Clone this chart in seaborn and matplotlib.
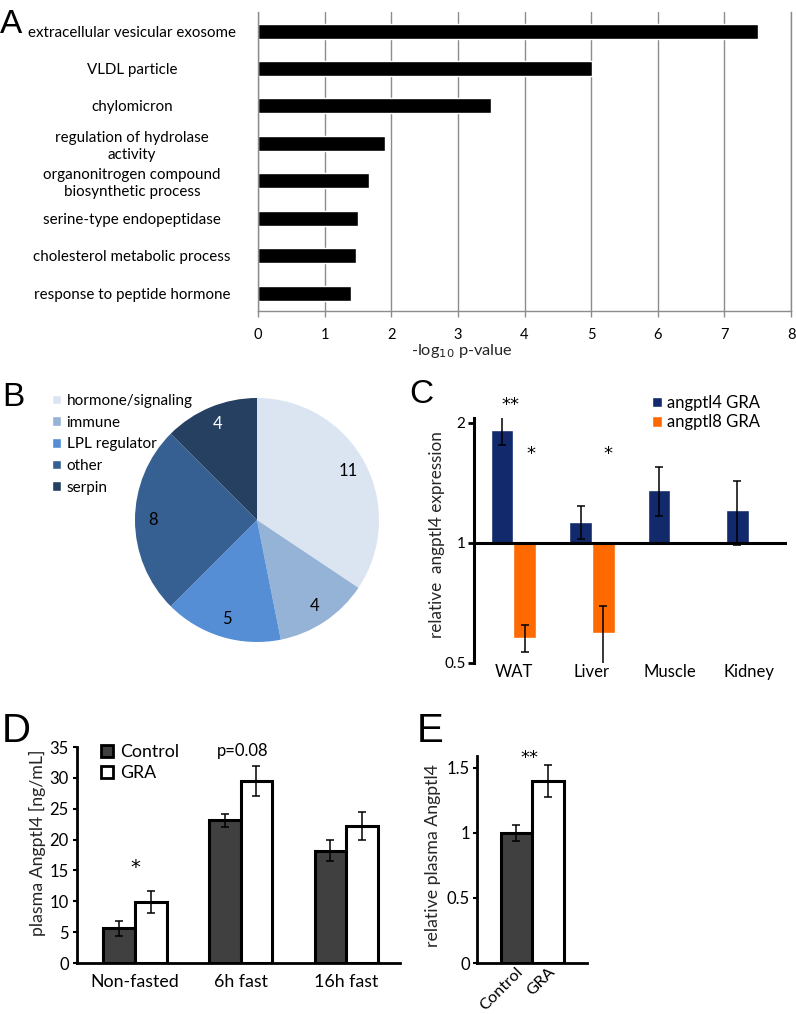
import numpy as np
import pandas as pd
import matplotlib
matplotlib.use("Agg")
import matplotlib.pyplot as plt
import seaborn as sns
from matplotlib.patches import Patch

# ---------------- data ----------------
# Panel A
go_terms = ["extracellular vesicular exosome", "VLDL particle", "chylomicron",
            "regulation of hydrolase\nactivity",
            "organonitrogen compound\nbiosynthetic process",
            "serine-type endopeptidase", "cholesterol metabolic process",
            "response to peptide hormone"]
go_neglog_p = [7.5, 5.02, 3.5, 1.9, 1.67, 1.5, 1.47, 1.4]
a_xticks = [0, 1, 2, 3, 4, 5, 6, 7, 8]

# Panel B
pie_labels = ["hormone/signaling", "immune", "LPL regulator", "other", "serpin"]
pie_counts = [11, 4, 5, 8, 4]
pie_colors = ["#dbe5f1", "#95b3d7", "#558ed5", "#376092", "#254061"]
pie_text_colors = ["black", "black", "black", "black", "white"]

# Panel C
c_tissues = ["WAT", "Liver", "Muscle", "Kidney"]
c_genes = ["angptl4 GRA", "angptl8 GRA"]
c_angptl4 = [1.92, 1.13, 1.36, 1.21]
c_angptl4_err = [0.165, 0.11, 0.19, 0.22]
c_angptl8 = [0.578, 0.595, np.nan, np.nan]
c_angptl8_err = [0.045, 0.10, np.nan, np.nan]
c_colors = ["#12296b", "#ff6a00"]
c_yticks = [0.5, 1, 2]

# Panel D
d_conditions = ["Non-fasted", "6h fast", "16h fast"]
d_groups = ["Control", "GRA"]
d_control = [5.6, 23.1, 18.2]
d_control_err = [1.2, 1.0, 1.7]
d_gra = [9.9, 29.5, 22.2]
d_gra_err = [1.8, 2.4, 2.3]
d_yticks = [0, 5, 10, 15, 20, 25, 30, 35]

# Panel E
e_groups = ["Control", "GRA"]
e_values = [1.0, 1.40]
e_err = [0.065, 0.125]
e_yticks = [0, 0.5, 1, 1.5]

grp_colors = {"Control": "#404040", "GRA": "white"}

# ---------------- figure ----------------
sns.set_theme(style="white")
plt.rcParams['font.family'] = ['Lato', 'DejaVu Sans']
plt.rcParams['axes.edgecolor'] = 'black'
plt.rcParams['text.color'] = 'black'
plt.rcParams['xtick.color'] = 'black'
plt.rcParams['ytick.color'] = 'black'

W, H = 796, 1014
fig = plt.figure(figsize=(W / 100, H / 100), dpi=100)


def ax_px(l, t, r, b):
    return fig.add_axes([l / W, 1 - b / H, (r - l) / W, (b - t) / H])


letter_kw = dict(family=['Liberation Sans', 'DejaVu Sans'], color='black')
star_kw = dict(family=['DejaVu Sans'], color='black')

# ---------------- Panel A ----------------
axA = ax_px(258, 12, 791, 311)
sns.barplot(x=go_neglog_p, y=go_terms, orient='h', color='black', width=0.4,
            saturation=1, ax=axA)
axA.set_xlim(0, 8)
axA.set_ylim(7.48, -0.51)
axA.set_xticks(a_xticks)
axA.xaxis.grid(True, color='#8c8c8c', lw=1)
axA.set_axisbelow(True)
for s in ['left', 'bottom', 'right']:
    axA.spines[s].set_color('#8c8c8c')
    axA.spines[s].set_linewidth(1)
axA.spines['top'].set_visible(False)
axA.tick_params(axis='x', direction='out', length=4, color='#8c8c8c',
                width=1, pad=8, labelsize=10.5, bottom=True)
axA.tick_params(axis='y', length=0, pad=90.7, labelsize=10.9)
for lab in axA.get_yticklabels():
    lab.set_horizontalalignment('center')
    lab.set_linespacing(1.25)
axA.set_ylabel("")
axA.set_xlabel(r"-log$_{10}$ p-value", fontsize=11.8)
axA.xaxis.set_label_coords((462 - 258) / 533, 1 - (342 - 12) / 299)
fig.text(0 / W, 1 - 33 / H, "A", fontsize=24, ha='left', va='baseline', **letter_kw)

# ---------------- Panel B ----------------
axB = ax_px(135, 398, 379, 642)
total = sum(pie_counts)
wedges, texts, autotexts = axB.pie(
    pie_counts, colors=pie_colors, startangle=90, counterclock=False,
    autopct=lambda p: f"{int(round(p * total / 100))}", pctdistance=0.85,
    wedgeprops=dict(linewidth=0), textprops=dict(fontsize=12))
for t, c in zip(autotexts, pie_text_colors):
    t.set_color(c)
axB.set_xlim(-1, 1)
axB.set_ylim(-1, 1)
fig.legend(handles=[Patch(facecolor=c, label=l) for c, l in zip(pie_colors, pie_labels)],
           loc='upper left', bbox_to_anchor=(52 / W, 1 - 394 / H), frameon=False,
           fontsize=11, handlelength=0.6, handleheight=0.6, handletextpad=0.35,
           labelspacing=0.5, borderpad=0, borderaxespad=0)
fig.text(2 / W, 1 - 406 / H, "B", fontsize=24, ha='left', va='baseline', **letter_kw)

# ---------------- Panel C ----------------
axC = ax_px(474, 418, 787, 663)
dfC = pd.DataFrame({
    "tissue": c_tissues * 2,
    "gene": [c_genes[0]] * 4 + [c_genes[1]] * 4,
    "value": c_angptl4 + c_angptl8,
    "err": c_angptl4_err + c_angptl8_err,
}).dropna()
dfC["log2"] = np.log2(dfC["value"])
sns.barplot(data=dfC, x="tissue", y="log2", hue="gene", order=c_tissues,
            hue_order=c_genes, palette=dict(zip(c_genes, c_colors)),
            width=0.58, saturation=1, errorbar=None, legend=False, ax=axC)
for p in axC.patches:
    h = p.get_height()
    cx = p.get_x() + p.get_width() / 2
    row = dfC[np.isclose(dfC["log2"], h)].iloc[0]
    v, e = row["value"], row["err"]
    lo = np.log2(v) - np.log2(v - e)
    hi = np.log2(v + e) - np.log2(v)
    axC.errorbar(cx, h, yerr=[[lo], [hi]], fmt='none', ecolor='black',
                 elinewidth=1.1, capsize=3, capthick=1.1)
axC.set_xlim(-0.504, 3.49)
axC.set_ylim(-1.0, 1.04)
axC.set_yticks(np.log2(c_yticks))
axC.set_yticklabels([f"{v:g}" for v in c_yticks])
axC.axhline(0, color='black', lw=2.2)
for s in ['top', 'right', 'bottom']:
    axC.spines[s].set_visible(False)
axC.spines['left'].set_linewidth(2.2)
axC.tick_params(axis='y', direction='out', length=4, width=2, pad=2, labelsize=11, left=True)
axC.tick_params(axis='x', length=0, pad=1, labelsize=12)
axC.set_xlabel("")
axC.set_ylabel("relative  angptl4 expression", fontsize=12.3)
axC.yaxis.label.set_va('center')
axC.yaxis.set_label_coords((437 - 474) / 313, 1 - (535 - 418) / 245)
axC.text(-0.045, 1.15, "**", ha='center', va='center', fontsize=13, clip_on=False, **star_kw)
axC.text(0.22, 0.74, "*", ha='center', va='center', fontsize=13, clip_on=False, **star_kw)
axC.text(1.21, 0.74, "*", ha='center', va='center', fontsize=13, clip_on=False, **star_kw)
fig.legend(handles=[Patch(facecolor=c, label=l) for c, l in zip(c_colors, c_genes)],
           loc='upper left', bbox_to_anchor=(652 / W, 1 - 395 / H), frameon=False,
           fontsize=12, handlelength=0.6, handleheight=0.6, handletextpad=0.3,
           labelspacing=0.2, borderpad=0, borderaxespad=0)
fig.text(409 / W, 1 - 403 / H, "C", fontsize=24, ha='left', va='baseline', **letter_kw)

# ---------------- Panel D ----------------
axD = ax_px(77, 747, 400, 963)
dfD = pd.DataFrame({
    "condition": d_conditions * 2,
    "group": [d_groups[0]] * 3 + [d_groups[1]] * 3,
    "value": d_control + d_gra,
    "err": d_control_err + d_gra_err,
})
sns.barplot(data=dfD, x="condition", y="value", hue="group", order=d_conditions,
            hue_order=d_groups, palette=grp_colors, edgecolor='black', linewidth=2.2,
            width=0.6, saturation=1, errorbar=None, legend=False, ax=axD)
for p in axD.patches:
    h = p.get_height()
    cx = p.get_x() + p.get_width() / 2
    row = dfD[np.isclose(dfD["value"], h)].iloc[0]
    axD.errorbar(cx, h, yerr=row["err"], fmt='none', ecolor='black',
                 elinewidth=1.1, capsize=3, capthick=1.1)
axD.set_xlim(-0.55, 2.51)
axD.set_ylim(0, 35)
axD.set_yticks(d_yticks)
for s in ['top', 'right']:
    axD.spines[s].set_visible(False)
for s in ['left', 'bottom']:
    axD.spines[s].set_linewidth(2)
axD.tick_params(axis='y', direction='out', length=3, width=1.5, pad=3, labelsize=12, left=True)
axD.tick_params(axis='x', length=0, pad=8, labelsize=12.8)
axD.set_xlabel("")
axD.set_ylabel("plasma Angptl4 [ng/mL]", fontsize=12.8)
axD.yaxis.label.set_va('center')
axD.yaxis.set_label_coords((37 - 77) / 323, 1 - (843 - 747) / 216)
axD.text(0, 15.4, "*", ha='center', va='center', fontsize=14, **star_kw)
axD.text(1.02, 34.3, "p=0.08", ha='center', va='center', fontsize=12, clip_on=False)
fig.legend(handles=[Patch(facecolor=grp_colors[g], edgecolor='black', linewidth=2, label=g)
                    for g in d_groups],
           loc='upper left', bbox_to_anchor=(101 / W, 1 - 744 / H), frameon=False,
           fontsize=12.8, handlelength=0.65, handleheight=0.65, handletextpad=0.4,
           labelspacing=0.3, borderpad=0, borderaxespad=0)
fig.text(2 / W, 1 - 742 / H, "D", fontsize=29, ha='left', va='baseline', **letter_kw)

# ---------------- Panel E ----------------
axE = ax_px(477, 756, 587, 963)
sns.barplot(x=e_groups, y=e_values, hue=e_groups, palette=grp_colors, edgecolor='black',
            linewidth=2.2, width=1.0, saturation=1, errorbar=None, legend=False, ax=axE)
for p in axE.patches:
    h = p.get_height()
    cx = p.get_x() + p.get_width() / 2
    i = int(np.argmin([abs(h - v) for v in e_values]))
    axE.errorbar(cx, h, yerr=e_err[i], fmt='none', ecolor='black',
                 elinewidth=1.1, capsize=3, capthick=1.1)
axE.set_xlim(-1.25, 2.24)
axE.set_ylim(0, 1.592)
axE.set_yticks(e_yticks)
axE.set_yticklabels([f"{v:g}" for v in e_yticks])
for s in ['top', 'right']:
    axE.spines[s].set_visible(False)
for s in ['left', 'bottom']:
    axE.spines[s].set_linewidth(2)
axE.tick_params(axis='y', direction='out', length=3, width=1.5, pad=2, labelsize=12, left=True)
axE.tick_params(axis='x', length=0, pad=1, labelsize=11.8)
for lab in axE.get_xticklabels():
    lab.set_rotation(45)
    lab.set_horizontalalignment('right')
    lab.set_rotation_mode('anchor')
axE.set_ylabel("relative plasma Angptl4", fontsize=12.8)
axE.yaxis.label.set_va('center')
axE.yaxis.set_label_coords((433 - 477) / 110, 1 - (856 - 756) / 207)
axE.text(0.4, 1.575, "**", ha='center', va='center', fontsize=13, clip_on=False, **star_kw)
fig.text(417 / W, 1 - 742 / H, "E", fontsize=29, ha='left', va='baseline', **letter_kw)

fig.savefig("out.png", dpi=100, facecolor='white')
